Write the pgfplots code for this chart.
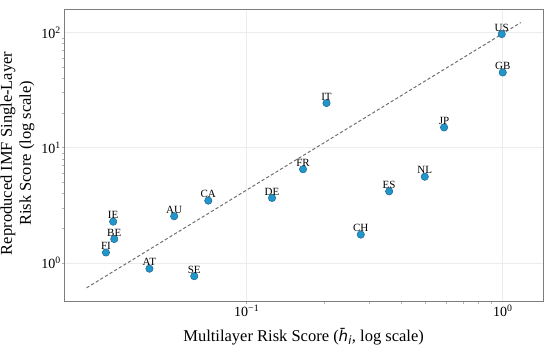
\documentclass[border=0pt]{standalone}
\usepackage{pgfplots}
\pgfplotsset{compat=1.18}
\usepackage{fontspec}
\setmainfont{Liberation Serif}
\newfontfamily\djv{DejaVu Sans}
\definecolor{ptfill}{RGB}{33,150,200}
\definecolor{ptedge}{RGB}{30,100,150}
\definecolor{gridc}{RGB}{236,236,236}
\definecolor{framec}{RGB}{125,125,125}
\begin{document}
\begin{tikzpicture}
\begin{axis}[
  scale only axis, width=478.7pt, height=292.7pt,
  xmode=log, ymode=log,
  xmin=0.0194, xmax=1.436, ymin=0.46, ymax=160,
  axis line style={framec, line width=0.8pt},
  grid=major, major grid style={gridc, line width=0.6pt},
  xtick={0.1,1}, xticklabels={10\textsuperscript{−1},10\textsuperscript{0}},
  ytick={1,10,100}, yticklabels={10\textsuperscript{0},10\textsuperscript{1},10\textsuperscript{2}},
  tick label style={font=\fontsize{14}{16}\selectfont, black},
  major tick length=0pt, minor tick length=2.5pt,
  tick align=outside, tick style={framec!60, line width=0.5pt},
  xtick pos=bottom, ytick pos=left,
  xlabel={Multilayer Risk Score ({\djv\itshape\fontsize{15}{18}\selectfont h̄}\textsubscript{\djv\itshape i}, log scale)},
  ylabel={Reproduced IMF Single-Layer\\Risk Score (log scale)},
  label style={font=\fontsize{16.5}{19}\selectfont},
  xlabel style={yshift=-4pt},
  ylabel style={align=center, xshift=2pt},
  clip=false,
]
\addplot[framec!90!black, dashed, dash pattern=on 3.2pt off 2.2pt, line width=1pt] coordinates {(0.0237,0.607) (1.176,122)};
\addplot[only marks, mark=*, mark size=3.7pt, mark options={fill=ptfill, draw=ptedge, line width=0.5pt},
  nodes near coords, point meta=explicit symbolic,
  nodes near coords style={font=\fontsize{11}{12}\selectfont, black, anchor=south, yshift=2.6pt, inner sep=0pt}]
  table[meta=lab] {
x y lab
0.991 96.9 US
1.0 45.0 GB
0.205 24.4 IT
0.59 15.0 JP
0.166 6.5 FR
0.496 5.6 NL
0.36 4.18 ES
0.279 1.76 CH
0.1256 3.66 DE
0.0708 3.47 CA
0.0521 2.54 AU
0.0301 2.28 IE
0.0304 1.61 BE
0.0282 1.23 FI
0.0417 0.89 AT
0.0624 0.766 SE
};
\end{axis}
\pgfresetboundingbox
\path (current axis.south west) ++(-64.3pt,-49.3pt) rectangle ++(550pt,351pt);
\end{tikzpicture}
\end{document}
